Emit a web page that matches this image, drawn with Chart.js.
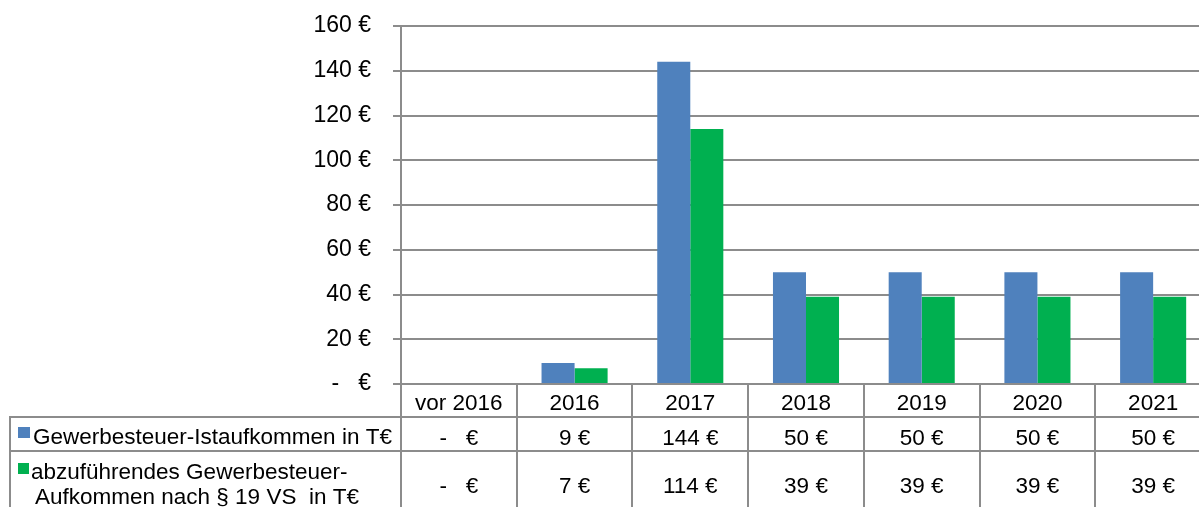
<!DOCTYPE html>
<html><head><meta charset="utf-8">
<script src="https://cdn.jsdelivr.net/npm/chart.js@4.4.1/dist/chart.umd.min.js"></script>
<style>
html,body{margin:0;padding:0;overflow:hidden;background:#fff;width:1199px;height:507px}
#wrap{width:1211px;height:507px;position:relative}
</style></head>
<body><div id="wrap"><canvas id="c" width="1211" height="507"></canvas></div>
<script>
const categories = ['vor 2016', '2016', '2017', '2018', '2019', '2020', '2021'];
const istaufkommen = [0, 9.4, 144, 50, 50, 50, 50];
const abzufuehrend = [0, 7, 114, 39, 39, 39, 39];
const seriesNames = ['Gewerbesteuer-Istaufkommen in T€', 'abzuführendes Gewerbesteuer-Aufkommen nach § 19 VS  in T€'];
const rowLabelLines = [['Gewerbesteuer-Istaufkommen in T€'], ['abzuführendes Gewerbesteuer-', 'Aufkommen nach § 19 VS  in T€']];
const yMin = 0, yMax = 160, yStep = 20;

const BLUE = '#4F81BD', GREEN = '#00B050', GRID = '#8c8c8c';
const FONT = '"Liberation Sans", Arial, sans-serif';

function euro(v) {
  return v === 0 ? '-   €' : Math.round(v) + ' €';
}

const tablePlugin = {
  id: 'dataTable',
  afterDraw(chart) {
    const ctx = chart.ctx, x = chart.scales.x, area = chart.chartArea;
    const half = (x.getPixelForValue(1) - x.getPixelForValue(0)) / 2;
    const top = area.bottom;
    const r1 = top + 33, r2 = r1 + 34, bottom = chart.height + 2;
    const leftEdge = 10;
    ctx.save();
    ctx.strokeStyle = GRID; ctx.lineWidth = 2;
    ctx.beginPath();
    ctx.moveTo(leftEdge - 1, r1); ctx.lineTo(area.right, r1);
    ctx.moveTo(leftEdge - 1, r2); ctx.lineTo(area.right, r2);
    ctx.moveTo(leftEdge, r1); ctx.lineTo(leftEdge, bottom);
    for (let i = 0; i <= categories.length; i++) {
      const px = Math.round(x.getPixelForValue(i) - half);
      ctx.moveTo(px, top); ctx.lineTo(px, bottom);
    }
    ctx.stroke();

    // legend keys
    ctx.fillStyle = BLUE; ctx.fillRect(18, r1 + 10, 12, 11);
    ctx.fillStyle = GREEN; ctx.fillRect(18, r2 + 12, 11, 11);

    ctx.fillStyle = '#000';
    ctx.font = '22.5px ' + FONT;
    ctx.textBaseline = 'alphabetic';
    ctx.textAlign = 'left';
    ctx.fillText(rowLabelLines[0][0], 33, r1 + 27);
    ctx.fillText(rowLabelLines[1][0], 31, r2 + 28);
    ctx.fillText(rowLabelLines[1][1], 35, r2 + 53);

    ctx.textAlign = 'center';
    const rows = [istaufkommen, abzufuehrend];
    const baselines = [r1 + 28, r2 + 42];
    rows.forEach((arr, ri) => {
      arr.forEach((v, i) => {
        ctx.fillText(euro(v), x.getPixelForValue(i), baselines[ri]);
      });
    });
    ctx.restore();
  }
};

new Chart(document.getElementById('c'), {
  type: 'bar',
  data: {
    labels: categories,
    datasets: [
      { label: seriesNames[0], data: istaufkommen, backgroundColor: BLUE, borderWidth: 0 },
      { label: seriesNames[1], data: abzufuehrend, backgroundColor: GREEN, borderWidth: 0 }
    ]
  },
  options: {
    responsive: false,
    devicePixelRatio: 1,
    animation: false,
    layout: { padding: { top: 26, left: 0, right: 0, bottom: 0 } },
    datasets: { bar: { categoryPercentage: 0.571, barPercentage: 1 } },
    plugins: { legend: { display: false }, tooltip: { enabled: false } },
    scales: {
      x: {
        grid: { display: false, drawTicks: false },
        border: { display: false },
        ticks: { color: '#000', font: { family: FONT, size: 22.5 }, padding: 6, maxRotation: 0 },
        afterFit(s) { s.height = 123; }
      },
      y: {
        min: yMin, max: yMax,
        ticks: { stepSize: yStep, color: '#000', font: { family: FONT, size: 23 }, padding: 22,
                 callback: (v) => euro(v) },
        grid: { color: GRID, lineWidth: 2, tickLength: 8 },
        border: { display: true, color: GRID, width: 2 },
        afterFit(s) { s.width = 401; s.paddingTop = 0; s.paddingBottom = 0; }
      }
    }
  },
  plugins: [tablePlugin]
});
</script>
</body></html>
